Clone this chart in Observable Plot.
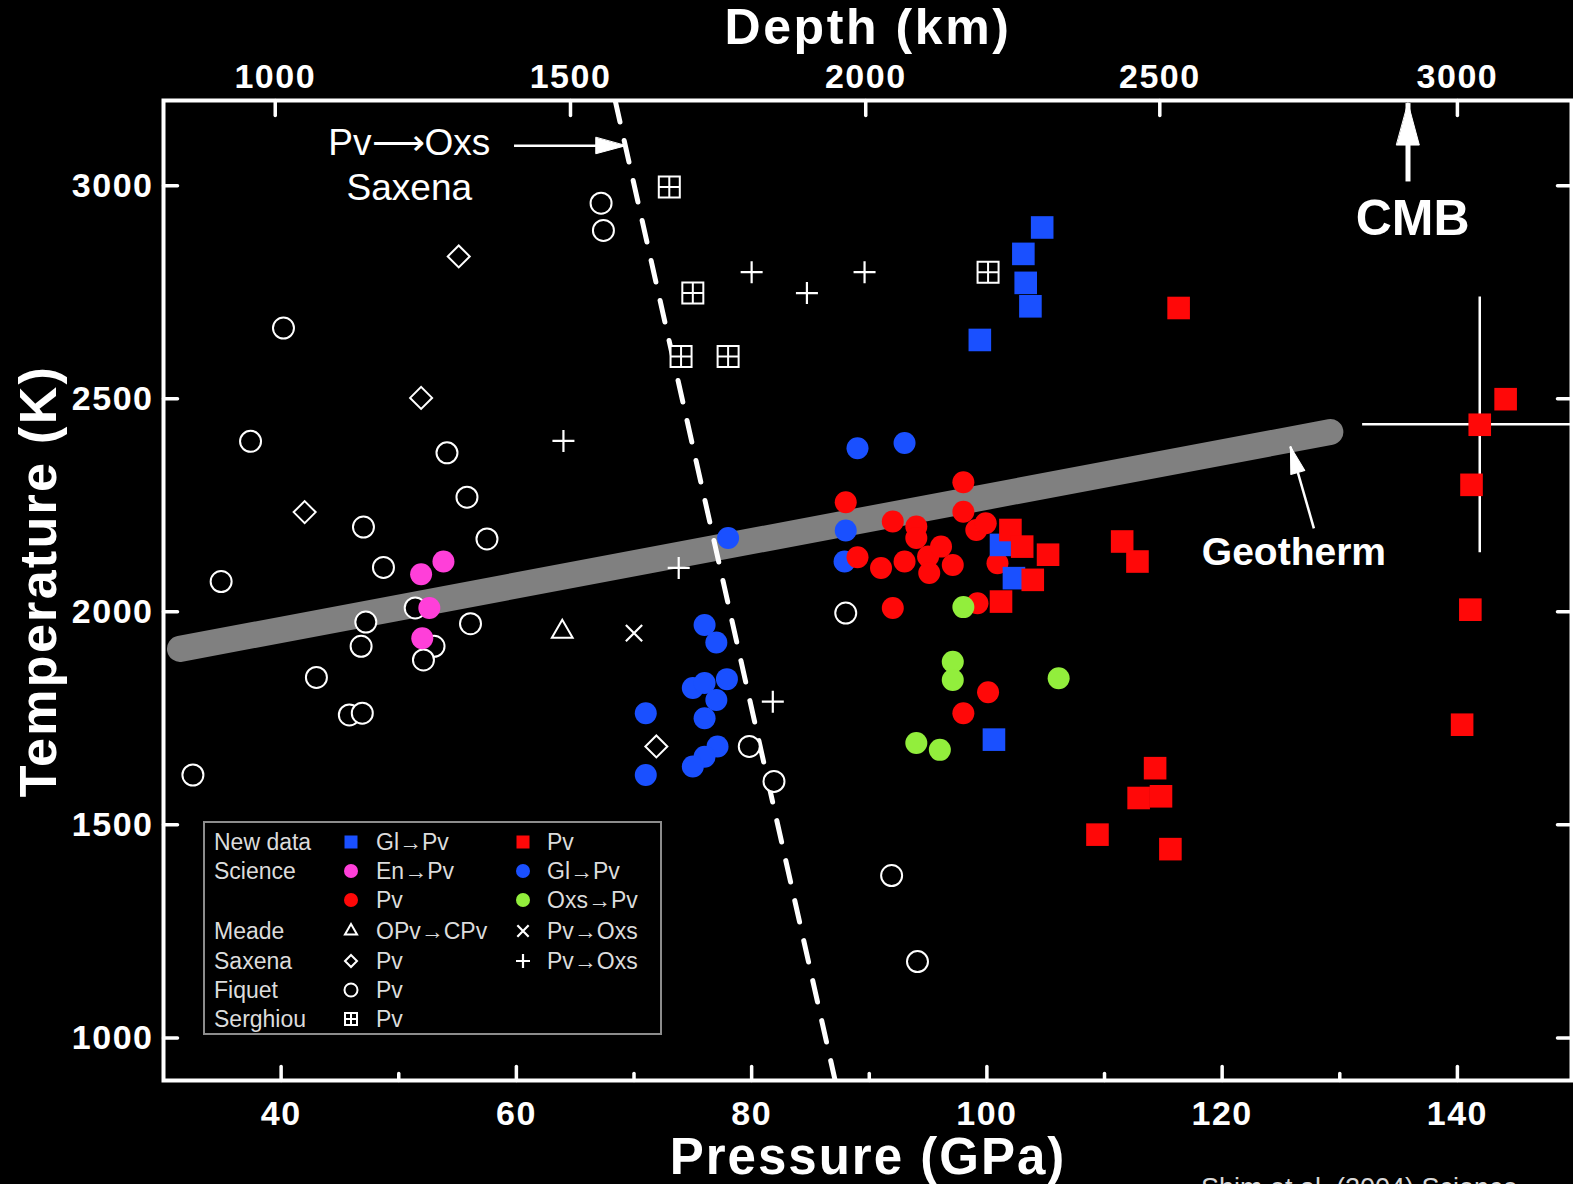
<!DOCTYPE html>
<html><head><meta charset="utf-8">
<script src="https://cdn.jsdelivr.net/npm/d3@7"></script>
<script src="https://cdn.jsdelivr.net/npm/@observablehq/plot@0.6"></script>
<style>
html,body{margin:0;padding:0;background:#000;}
#chart{position:relative;width:1573px;height:1184px;overflow:hidden;background:#000;}
svg{display:block;}
g[aria-label="x-axis tick label"] text, g[aria-label="y-axis tick label"] text{letter-spacing:1.5px;}
</style></head><body><div id="chart"></div>
<script>
// ---------- data (pressure GPa, temperature K) ----------
const fiquetPv = [[67.2,2959],[67.4,2895],[40.2,2666],[37.4,2400],[54.1,2373],[55.8,2269],[57.5,2171],[47.0,2199],[48.7,2104],[34.9,2071],[51.4,2009],[47.2,1976],[46.8,1919],[53.0,1919],[52.1,1887],[56.1,1972],[43.0,1846],[45.8,1758],[46.9,1762],[32.5,1617],[88.0,1997],[79.8,1684],[81.9,1602],[91.9,1381],[94.1,1179]];
const saxenaPv = [[55.1,2834],[51.9,2502],[42.0,2234],[71.9,1684]];
const saxenaPvOxs = [[64.0,2401],[80.0,2797],[84.7,2748],[89.6,2797],[73.8,2103],[81.8,1789]];
const serghiouPv = [[73.0,2997],[75.0,2748],[74.0,2599],[78.0,2599],[100.1,2797]];
const meadeOPvCPv = [[63.9,1953]];
const meadePvOxs = [[70.0,1950]];
const scienceGlPv = [[89.0,2384],[93.0,2396],[78.0,2173],[88.0,2191],[87.9,2118],[76.0,1969],[77.0,1928],[77.9,1842],[75.0,1821],[76.0,1833],[77.0,1793],[76.0,1750],[71.0,1762],[77.1,1684],[76.0,1660],[75.0,1637],[71.0,1617]];
const sciencePv = [[98.0,2304],[88.0,2257],[89.0,2128],[92.0,2212],[94.0,2200],[94.0,2173],[91.0,2103],[93.0,2118],[95.0,2130],[96.1,2153],[97.1,2110],[95.1,2091],[98.0,2235],[99.1,2192],[99.9,2208],[100.9,2114],[99.2,2020],[92.0,2009],[100.1,1811],[98.0,1762]];
const scienceOxsPv = [[98.0,2011],[97.1,1883],[97.1,1840],[106.1,1844],[94.0,1692],[96.0,1676]];
const scienceEnPv = [[53.8,2118],[51.9,2088],[52.6,2009],[52.0,1938]];
const newGlPv = [[104.7,2902],[103.1,2840],[103.3,2772],[103.7,2717],[99.4,2638],[101.2,2157],[102.3,2079],[100.6,1700]];
const newPv = [[116.3,2713],[144.1,2499],[141.9,2439],[141.2,2298],[141.1,2005],[111.5,2165],[112.8,2118],[102.0,2192],[103.0,2153],[105.2,2134],[103.9,2075],[101.2,2024],[114.3,1633],[112.9,1563],[114.8,1567],[109.4,1477],[115.6,1443],[140.4,1735]];

const geotherm = [[31.4,1913],[129.2,2422]];
const saxenaBoundary = [[68.4,3200],[87.1,900]];
const errorBar = {P:141.9, T:2440, dP:10, dT:300};

const pressureTicks = [40,60,80,100,120,140];
const pressureMinor = [50,70,90,110,130];
const tempTicks = [1000,1500,2000,2500,3000];
const depthTicks = [1000,1500,2000,2500,3000];
const depthPressure = [39.5,64.6,89.7,114.7,140.0];

const plainNotes = [
  {P:50.9, T:3100, text:"Pv\u27F6Oxs"},
  {P:50.9, T:2994, text:"Saxena"}
];
const boldNotes = [
  {P:136.2, T:2923, text:"CMB", size:50},
  {P:126.1, T:2138, text:"Geotherm", size:40}
];
const arrows = [
  {P1:59.8, T1:3094, P2:69.3, T2:3094, w:2.5, head:30, rot:90},
  {P1:135.8, T1:3010, P2:135.8, T2:3194, w:5, head:42, rot:0},
  {P1:127.8, T1:2196, P2:125.8, T2:2388, w:2.5, head:27, rot:-16}
];

// ---------- colours ----------
const BLUE = "#1a50ff", RED = "#ff0808", MAGENTA = "#ff3fd9", GREEN = "#92ee3c", GRAY = "#808080";
const FONT = "'Liberation Sans', Arial, Helvetica, sans-serif";

// ---------- custom symbols (r = half span) ----------
const R = s => Math.sqrt(s/Math.PI);
const symCircle = {draw(c,s){const r=R(s); c.moveTo(r,0); c.arc(0,0,r,0,2*Math.PI); c.closePath();}};
const symSquare = {draw(c,s){const r=R(s); c.rect(-r,-r,2*r,2*r);}};
const symDiamond = {draw(c,s){const r=R(s); c.moveTo(0,-r); c.lineTo(r,0); c.lineTo(0,r); c.lineTo(-r,0); c.closePath();}};
const symGrid = {draw(c,s){const r=R(s); c.rect(-r,-r,2*r,2*r); c.moveTo(0,-r); c.lineTo(0,r); c.moveTo(-r,0); c.lineTo(r,0);}};
const symPlus = {draw(c,s){const r=R(s); c.moveTo(-r,0); c.lineTo(r,0); c.moveTo(0,-r); c.lineTo(0,r);}};
const symTimes = {draw(c,s){const r=R(s)*0.707; c.moveTo(-r,-r); c.lineTo(r,r); c.moveTo(r,-r); c.lineTo(-r,r);}};
const symTriangle = {draw(c,s){const r=R(s); c.moveTo(0,-r); c.lineTo(r*0.866,r*0.5); c.lineTo(-r*0.866,r*0.5); c.closePath();}};
const tickLine = {draw(c,l){c.moveTo(0,0); c.lineTo(0,-l);}};
const headShape = {draw(c,l){const w=l*0.27; c.moveTo(0,-l); c.lineTo(w,0); c.lineTo(-w,0); c.closePath();}};

const xy = {x: d => d[0], y: d => d[1]};
const openSym = (data, symbol, r) => Plot.dot(data, {...xy, symbol, r, fill:"#000", stroke:"#fff", strokeWidth:2});
const lineSym = (data, symbol, r) => Plot.dot(data, {...xy, symbol, r, fill:"none", stroke:"#fff", strokeWidth:2.2});
const fillSym = (data, symbol, r, color) => Plot.dot(data, {...xy, symbol, r, fill:color, stroke:"none"});
const tickStyle = {anchor:"start", shape:tickLine, stroke:"#fff", strokeWidth:3.5};
const labelStyle = {tickSize:0, fontSize:34, fontWeight:"bold", label:null, fill:"#fff"};

const chart = Plot.plot({
  width:1573, height:1184,
  marginTop:100, marginBottom:104, marginLeft:163, marginRight:2,
  x:{domain:[30,149.7]},
  y:{domain:[900,3200]},
  length:{type:"identity"},
  style:{background:"#000", color:"#fff", fontFamily:FONT},
  marks:[
    Plot.line(geotherm, {...xy, stroke:GRAY, strokeWidth:26, strokeLinecap:"round"}),
    Plot.line(saxenaBoundary, {...xy, stroke:"#fff", strokeWidth:5, strokeDasharray:"22,19", clip:true}),
    Plot.link([errorBar], {x1:d=>d.P, x2:d=>d.P, y1:d=>d.T-d.dT, y2:d=>d.T+d.dT, stroke:"#fff", strokeWidth:2.5}),
    Plot.link([errorBar], {x1:d=>d.P-d.dP, x2:d=>d.P+d.dP, y1:d=>d.T, y2:d=>d.T, stroke:"#fff", strokeWidth:2.5, clip:true}),
    openSym(fiquetPv, symCircle, 10.5),
    openSym(saxenaPv, symDiamond, 11),
    lineSym(saxenaPvOxs, symPlus, 11),
    openSym(serghiouPv, symGrid, 10.5),
    openSym(meadeOPvCPv, symTriangle, 12),
    lineSym(meadePvOxs, symTimes, 11.5),
    fillSym(scienceGlPv, symCircle, 11, BLUE),
    fillSym(sciencePv, symCircle, 11, RED),
    fillSym(scienceOxsPv, symCircle, 11, GREEN),
    fillSym(scienceEnPv, symCircle, 11, MAGENTA),
    fillSym(newGlPv, symSquare, 11.3, BLUE),
    fillSym(newPv, symSquare, 11.3, RED),
    // annotations
    Plot.link(arrows, {x1:d=>d.P1, y1:d=>d.T1, x2:d=>d.P2, y2:d=>d.T2, stroke:"#fff", strokeWidth:d=>d.w}),
    Plot.vector(arrows, {x:d=>d.P2, y:d=>d.T2, length:d=>d.head, rotate:d=>d.rot, anchor:"end", shape:headShape, fill:"#fff", stroke:"#fff", strokeWidth:1}),
    Plot.text(plainNotes, {x:d=>d.P, y:d=>d.T, text:d=>d.text, fontSize:37, fill:"#fff"}),
    Plot.text(boldNotes.slice(0,1), {x:d=>d.P, y:d=>d.T, text:d=>d.text, fontSize:50, fontWeight:"bold", fill:"#fff"}),
    Plot.text(boldNotes.slice(1), {x:d=>d.P, y:d=>d.T, text:d=>d.text, fontSize:39, fontWeight:"bold", fill:"#fff"}),
    // axes
    Plot.axisY({...labelStyle, anchor:"left", ticks:tempTicks, tickPadding:10, tickFormat:d=>String(d)}),
    Plot.axisX({...labelStyle, anchor:"bottom", ticks:pressureTicks, tickPadding:20, tickFormat:d=>String(d)}),
    Plot.axisX({...labelStyle, anchor:"top", ticks:depthPressure, tickPadding:13, tickFormat:d=>String(depthTicks[depthPressure.indexOf(d)])}),
    Plot.vector(tempTicks, {...tickStyle, y:d=>d, frameAnchor:"left", rotate:90, length:14}),
    Plot.vector(tempTicks, {...tickStyle, y:d=>d, frameAnchor:"right", rotate:-90, length:14}),
    Plot.vector(pressureTicks, {...tickStyle, x:d=>d, frameAnchor:"bottom", rotate:0, length:14}),
    Plot.vector(pressureMinor, {...tickStyle, x:d=>d, frameAnchor:"bottom", rotate:0, length:7}),
    Plot.vector(depthPressure, {...tickStyle, x:d=>d, frameAnchor:"top", rotate:180, length:15}),
    Plot.frame({stroke:"#fff", strokeWidth:4})
  ]
});

const svg = d3.select(chart);
// axis titles
svg.append("text").attr("x",868).attr("y",44).attr("text-anchor","middle")
  .attr("font-family",FONT).attr("font-size",50).attr("font-weight","bold").attr("letter-spacing","2.6px").attr("fill","#fff").text("Depth (km)");
svg.append("text").attr("x",868).attr("y",1174).attr("text-anchor","middle")
  .attr("font-family",FONT).attr("font-size",51).attr("font-weight","bold").attr("letter-spacing","2px").attr("fill","#fff").text("Pressure (GPa)");
svg.append("text").attr("transform","translate(56,581) rotate(-90)").attr("text-anchor","middle")
  .attr("font-family",FONT).attr("font-size",52).attr("font-weight","bold").attr("letter-spacing","2.3px").attr("fill","#fff").text("Temperature (K)");
svg.append("text").attr("x",1201).attr("y",1197).attr("text-anchor","start")
  .attr("font-family",FONT).attr("font-size",27).attr("fill","#d8d8d8").text("Shim et al. (2004) Science");

// legend
const legendRows = [
  {group:"New data", s1:[symSquare,BLUE,6.5,"fill"], t1:"Gl\u2192Pv", s2:[symSquare,RED,6.5,"fill"], t2:"Pv"},
  {group:"Science", s1:[symCircle,MAGENTA,7,"fill"], t1:"En\u2192Pv", s2:[symCircle,BLUE,7,"fill"], t2:"Gl\u2192Pv"},
  {group:"", s1:[symCircle,RED,7,"fill"], t1:"Pv", s2:[symCircle,GREEN,7,"fill"], t2:"Oxs\u2192Pv"},
  {group:"Meade", s1:[symTriangle,"#fff",7,"open"], t1:"OPv\u2192CPv", s2:[symTimes,"#fff",8,"line"], t2:"Pv\u2192Oxs"},
  {group:"Saxena", s1:[symDiamond,"#fff",6,"open"], t1:"Pv", s2:[symPlus,"#fff",7,"line"], t2:"Pv\u2192Oxs"},
  {group:"Fiquet", s1:[symCircle,"#fff",6.5,"open"], t1:"Pv", s2:null, t2:""},
  {group:"Serghiou", s1:[symGrid,"#fff",6,"open"], t1:"Pv", s2:null, t2:""}
];
const rowY = [842,871,900,931,961,990,1019];
const lg = svg.append("g").attr("font-family",FONT).attr("font-size",23).attr("fill","#dcdcdc").attr("text-anchor","start");
lg.append("rect").attr("x",204).attr("y",822).attr("width",457).attr("height",212)
  .attr("fill","#000").attr("stroke","#8c8c8c").attr("stroke-width",2);
function drawSym(g, spec, cx, cy){
  if(!spec) return;
  const [type,color,r,mode] = spec;
  const p = g.append("path").attr("transform",`translate(${cx},${cy})`)
    .attr("d", d3.symbol().type(type).size(Math.PI*r*r)());
  if(mode==="fill") p.attr("fill",color).attr("stroke","none");
  else if(mode==="open") p.attr("fill","none").attr("stroke",color).attr("stroke-width",2);
  else p.attr("fill","none").attr("stroke",color).attr("stroke-width",2.2);
}
legendRows.forEach((row,i)=>{
  const cy = rowY[i];
  lg.append("text").attr("x",214).attr("y",cy).attr("dy","0.35em").text(row.group);
  drawSym(lg,row.s1,351,cy);
  lg.append("text").attr("x",376).attr("y",cy).attr("dy","0.35em").text(row.t1);
  drawSym(lg,row.s2,523,cy);
  lg.append("text").attr("x",547).attr("y",cy).attr("dy","0.35em").text(row.t2);
});

document.getElementById("chart").appendChild(chart);
</script></body></html>
